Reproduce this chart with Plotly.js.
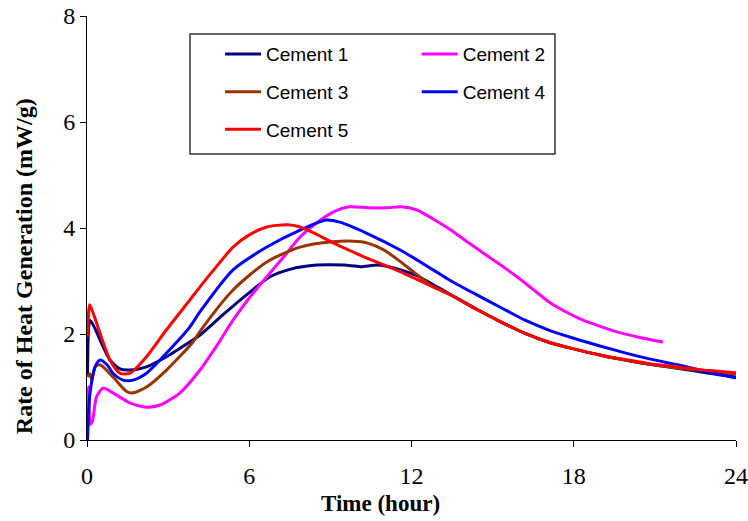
<!DOCTYPE html>
<html>
<head>
<meta charset="utf-8">
<script src="https://cdn.plot.ly/plotly-3.0.1.min.js"></script>
<style>html,body{margin:0;padding:0;background:#fff;}#chart{width:748px;height:521px;}</style>
</head>
<body>
<div id="chart"></div>
<script>
// ---- Data ----
const seriesNames = ["Cement 1", "Cement 2", "Cement 3", "Cement 4", "Cement 5"];

const c1_t = [0.02, 0.11, 0.3, 0.48, 0.85, 1.22, 1.59, 2.2, 2.94, 3.5, 4.18, 5, 6, 6.77, 7.5, 8.5, 9.5, 10.1, 10.8, 11.6, 12.2, 12.8, 13.4, 14.3, 15.3, 16.2, 17.1, 18, 19, 20, 20.8, 22, 23, 24];
const c1_v = [1.2, 2.26, 2.1, 1.89, 1.51, 1.34, 1.32, 1.38, 1.57, 1.75, 1.98, 2.35, 2.78, 3.08, 3.22, 3.30, 3.30, 3.27, 3.30, 3.21, 3.10, 2.93, 2.76, 2.5, 2.23, 2.01, 1.84, 1.72, 1.60, 1.50, 1.43, 1.34, 1.26, 1.19];

const c2_t = [0.02, 0.06, 0.12, 0.2, 0.35, 0.6, 0.96, 1.59, 2.2, 2.7, 3.44, 4.18, 4.8, 5.4, 6.0, 6.65, 7.3, 7.88, 8.5, 9.1, 9.7, 10.4, 11.1, 11.6, 12.2, 12.8, 13.4, 14.0, 14.65, 15.3, 15.9, 16.5, 17.1, 17.7, 18.3, 19.0, 19.6, 20.4, 21.3];
const c2_v = [0.2, 1.0, 0.3, 0.35, 0.81, 0.98, 0.89, 0.70, 0.62, 0.66, 0.89, 1.32, 1.78, 2.26, 2.68, 3.08, 3.47, 3.83, 4.1, 4.30, 4.40, 4.38, 4.38, 4.40, 4.34, 4.17, 3.98, 3.76, 3.53, 3.30, 3.08, 2.84, 2.60, 2.42, 2.27, 2.14, 2.04, 1.94, 1.85];

const c3_t = [0.02, 0.1, 0.18, 0.3, 0.48, 0.96, 1.48, 1.7, 2.2, 2.94, 3.92, 4.18, 5.4, 6.65, 7.88, 9.1, 9.85, 10.35, 11.0, 11.6, 12.2, 12.8, 13.4, 14.3, 15.3, 16.2, 17.1, 18, 19, 20, 20.8, 22, 23, 24];
const c3_v = [1.19, 1.25, 1.13, 1.38, 1.42, 1.19, 0.91, 0.89, 1.0, 1.32, 1.85, 2.05, 2.83, 3.36, 3.64, 3.74, 3.75, 3.72, 3.58, 3.36, 3.12, 2.89, 2.75, 2.5, 2.23, 2.01, 1.84, 1.72, 1.60, 1.50, 1.43, 1.35, 1.29, 1.24];

const c4_t = [0.02, 0.05, 0.11, 0.3, 0.48, 0.74, 0.96, 1.33, 1.7, 2.2, 2.94, 3.8, 4.18, 5.4, 6.65, 7.88, 8.85, 9.35, 10.35, 11.6, 12.8, 13.4, 14.3, 15.3, 16.2, 17.1, 18, 19, 20, 20.8, 22, 23, 24];
const c4_v = [0, 0.4, 0.88, 1.38, 1.51, 1.42, 1.26, 1.13, 1.13, 1.26, 1.64, 2.13, 2.42, 3.21, 3.64, 3.96, 4.15, 4.11, 3.90, 3.58, 3.21, 3.02, 2.77, 2.50, 2.26, 2.07, 1.92, 1.77, 1.63, 1.53, 1.40, 1.28, 1.17];

const c5_t = [0.02, 0.1, 0.23, 0.48, 0.85, 1.22, 1.59, 2.2, 2.94, 3.8, 4.18, 4.8, 5.4, 6.0, 6.65, 7.4, 7.88, 8.5, 9.1, 9.7, 10.35, 11.0, 11.6, 12.2, 12.8, 13.4, 14.3, 15.3, 16.2, 17.1, 18, 19, 20, 20.8, 22, 23, 24];
const c5_v = [1.95, 2.55, 2.39, 2.02, 1.51, 1.26, 1.26, 1.57, 2.08, 2.64, 2.89, 3.28, 3.64, 3.87, 4.02, 4.06, 4.02, 3.88, 3.72, 3.58, 3.43, 3.30, 3.17, 3.03, 2.89, 2.75, 2.49, 2.23, 2.01, 1.84, 1.72, 1.60, 1.51, 1.44, 1.37, 1.31, 1.27];

const xTickVals = [0, 6, 12, 18, 24];
const yTickVals = [0, 2, 4, 6, 8];
const xTitle = "Time (hour)";
const yTitle = "Rate of Heat Generation (mW/g)";

// ---- Styling ----
const colors = ["#000080", "#FF00FF", "#993300", "#0000FF", "#FF0000"];
const allT = [c1_t, c2_t, c3_t, c4_t, c5_t];
const allV = [c1_v, c2_v, c3_v, c4_v, c5_v];
const legendOf = ["legend", "legend2", "legend", "legend2", "legend"];

const traces = seriesNames.map((name, i) => ({
  type: "scatter",
  mode: "lines",
  name: name,
  x: allT[i],
  y: allV[i],
  line: {color: colors[i], width: 3, shape: "spline", smoothing: 0.7},
  legend: legendOf[i],
  legendgroup: "g" + i
}));

const serif = "'Times New Roman', 'Liberation Serif', serif";
const sans = "Arial, 'Liberation Sans', sans-serif";

const legendCommon = {
  orientation: "v",
  bgcolor: "rgba(0,0,0,0)",
  borderwidth: 0,
  font: {family: sans, size: 19, color: "#000"},
  tracegroupgap: 10,
  itemwidth: 36,
  yanchor: "top",
  xanchor: "left"
};

const layout = {
  width: 748,
  height: 521,
  margin: {l: 87, r: 12, t: 16, b: 81},
  paper_bgcolor: "#fff",
  plot_bgcolor: "#fff",
  showlegend: true,
  legend: Object.assign({}, legendCommon, {x: 0.205, y: 0.955}),
  legend2: Object.assign({}, legendCommon, {x: 0.508, y: 0.955}),
  shapes: [{
    type: "rect", xref: "paper", yref: "paper",
    x0: 0.1587, x1: 0.7211, y0: 0.6745, y1: 0.9575,
    line: {color: "#333", width: 1.5}, fillcolor: "rgba(0,0,0,0)"
  }],
  annotations: [
    {
      text: "<b>" + xTitle + "</b>", xref: "paper", yref: "paper",
      x: 0.453, y: -0.1486, xanchor: "center", yanchor: "middle",
      showarrow: false, font: {family: serif, size: 23, color: "#000"}
    },
    {
      text: "<b>" + yTitle + "</b>", xref: "paper", yref: "paper",
      x: -0.097, y: 0.41, xanchor: "center", yanchor: "middle", textangle: -90,
      showarrow: false, font: {family: serif, size: 24, color: "#000"}
    }
  ],
  xaxis: {
    range: [0, 24],
    tickvals: xTickVals,
    ticktext: xTickVals.map(String),
    showgrid: false, zeroline: false,
    showline: true, linecolor: "#000", linewidth: 1,
    ticks: "outside", ticklen: 6, tickcolor: "#000",
    ticklabelstandoff: 8,
    tickfont: {family: serif, size: 24, color: "#000"}
  },
  yaxis: {
    range: [0, 8],
    tickvals: yTickVals,
    ticktext: yTickVals.map(String),
    showgrid: false, zeroline: false,
    showline: true, linecolor: "#000", linewidth: 1,
    ticks: "outside", ticklen: 6, tickcolor: "#000",
    tickfont: {family: serif, size: 24, color: "#000"}
  }
};

Plotly.newPlot("chart", traces, layout, {displayModeBar: false, staticPlot: true});
</script>
</body>
</html>
